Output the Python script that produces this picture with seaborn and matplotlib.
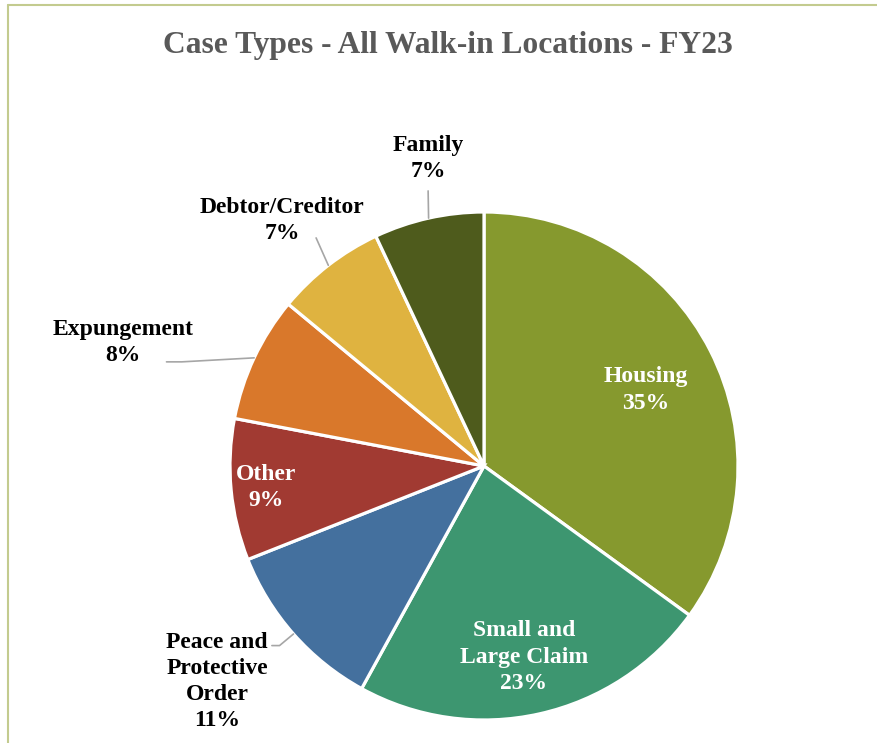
import numpy as np
import seaborn as sns
import matplotlib.pyplot as plt
from matplotlib.lines import Line2D

# data
categories = ["Housing", "Small and\nLarge Claim", "Peace and\nProtective\nOrder", "Other",
              "Expungement", "Debtor/Creditor", "Family"]
shares = [35, 23, 11, 9, 8, 7, 7]
colors = ["#86992e", "#3d9670", "#44709e", "#a13a32", "#d9782b", "#dfb340", "#4e5b1c"]
title = "Case Types - All Walk-in Locations - FY23"

# label layout: text centre (pie units, radius = 1) and whether a leader line is drawn
label_pos = {
    "Housing": (0.638, 0.299),
    "Small and\nLarge Claim": (0.157, -0.752),
    "Peace and\nProtective\nOrder": (-1.051, -0.848),
    "Other": (-0.858, -0.083),
    "Expungement": (-1.421, 0.486),
    "Debtor/Creditor": (-0.795, 0.965),
    "Family": (-0.22, 1.211),
}
leader_end = {
    "Peace and\nProtective\nOrder": [(-0.835, -0.707), (-0.805, -0.707)],
    "Expungement": [(-1.25, 0.41), (-1.19, 0.41)],
    "Debtor/Creditor": [(-0.661, 0.898)],
    "Family": [(-0.22, 1.083)],
}
inside = {"Housing", "Small and\nLarge Claim", "Other"}

sns.set_theme(style="white")
plt.rcParams["font.family"] = ["Liberation Serif", "DejaVu Serif"]

W, H, R = 878, 743, 254.0
cx, cy = 484, 466
fig = plt.figure(figsize=(W / 100, H / 100), dpi=100)
ax = fig.add_axes([0, 0, 1, 1])

pal = sns.color_palette(colors)
wedges, _ = ax.pie(shares, colors=pal, startangle=90, counterclock=False,
                   wedgeprops=dict(edgecolor="white", linewidth=2.3))
ax.set_xlim(-cx / R, (W - cx) / R)
ax.set_ylim((cy - H) / R, cy / R)
ax.set_aspect("auto")
ax.axis("off")

for w, name, pct in zip(wedges, categories, shares):
    tx, ty = label_pos[name]
    col = "white" if name in inside else "black"
    ax.text(tx, ty, f"{name}\n{pct}%", ha="center", va="center", fontsize=17,
            fontweight="bold", color=col, linespacing=1.32)
    if name in leader_end:
        mid = np.deg2rad((w.theta1 + w.theta2) / 2)
        pts = leader_end[name] + [(np.cos(mid), np.sin(mid))]
        xs, ys = zip(*pts)
        ax.plot(xs, ys, color="#a6a6a6", lw=1.2)

fig.text(448 / W, 1 - 45 / H, title, ha="center", va="center", fontsize=22.7,
         fontweight="bold", color="#595959")

# chart frame (left and top edges)
fig.add_artist(Line2D([8 / W, 8 / W], [0, 1 - 5 / H], color="#c3cb8f", lw=1.5,
                      transform=fig.transFigure))
fig.add_artist(Line2D([8 / W, 1], [1 - 5 / H, 1 - 5 / H], color="#c3cb8f", lw=1.5,
                      transform=fig.transFigure))

fig.savefig("out.png", dpi=100)
